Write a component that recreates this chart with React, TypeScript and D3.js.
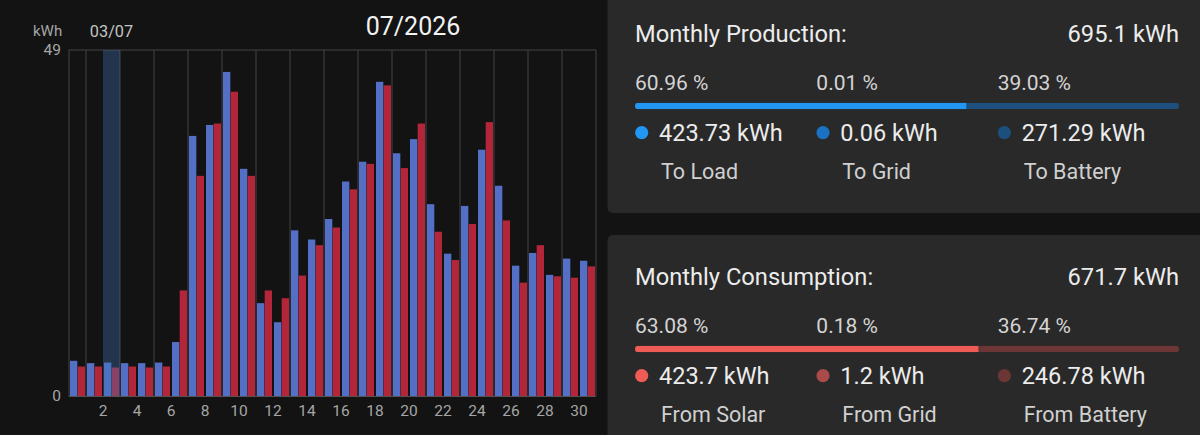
import React, { useEffect } from 'react';
import * as d3 from 'd3';

// daily energy, July 2026 (kWh)
const days = d3.range(1, 32).map(String);
const production = [
  5.05, 4.72, 4.8, 4.72, 4.72, 4.8, 7.7, 36.85, 38.4, 45.9, 32.2, 13.2, 10.5, 23.5, 22.2, 25.1,
  30.4, 33.2, 44.5, 34.4, 36.4, 27.2, 20.2, 26.95, 34.9, 29.8, 18.5, 20.3, 17.2, 19.5, 19.2,
];
const consumption = [
  4.24, 4.24, 4.1, 4.24, 4.1, 4.24, 15.0, 31.2, 38.6, 43.1, 31.2, 15.0, 13.9, 17.1, 21.4, 23.9,
  29.3, 32.9, 44.0, 32.3, 38.6, 23.3, 19.3, 24.4, 38.8, 24.9, 16.1, 21.4, 17.0, 16.8, 18.4,
];
const xTickDays = d3.range(2, 31, 2);
const gridDays = d3.range(1, 31, 2);
const yMax = 49;
const selectedDay = '3';
const selectedLabel = '03/07';
const monthLabel = '07/2026';

// summary panels
const prodTotal = '695.1 kWh';
const prodShares = [60.96, 0.01, 39.03];
const prodValues = ['423.73 kWh', '0.06 kWh', '271.29 kWh'];
const prodLabels = ['To Load', 'To Grid', 'To Battery'];
const consTotal = '671.7 kWh';
const consShares = [63.08, 0.18, 36.74];
const consValues = ['423.7 kWh', '1.2 kWh', '246.78 kWh'];
const consLabels = ['From Solar', 'From Grid', 'From Battery'];

const W = 1200;
const H = 435;
const font = 'Roboto, "Noto Sans", sans-serif';

const plot = { left: 69, right: 596, top: 50, bottom: 396.5 };

const x = d3.scaleBand().domain(days).range([plot.left, plot.right]);
const bw = x.bandwidth();
const sub = d3.scaleBand().domain(['p', 'c']).range([1, bw - 1]).paddingInner(0.05);
const y = d3.scaleLinear().domain([0, yMax]).range([plot.bottom, plot.top]);

type PanelProps = {
  top: number;
  title: string;
  total: string;
  shares: number[];
  values: string[];
  labels: string[];
  colors: string[];
};

const Panel = ({ top, title, total, shares, values, labels, colors }: PanelProps) => {
  const cols = d3.scaleBand().domain(['0', '1', '2']).range([635, 1179]);
  const bar = d3.scaleLinear().domain([0, 100]).range([635, 1179]);
  const cum = shares.reduce<number[]>((acc, s, i) => [...acc, (acc[i] ?? 0) + s], [0]);
  return (
    <g>
      <rect x={607.5} y={top} width={610} height={221} rx={5} fill="#292929" />
      <text x={635} y={top + 50} fontSize={23.7} fill="#ececec">{title}</text>
      <text x={1179} y={top + 50} fontSize={23.7} fill="#ececec" textAnchor="end">{total}</text>
      <clipPath id={`clip${top}`}>
        <rect x={635} y={top + 110.7} width={544} height={6.6} rx={3.3} />
      </clipPath>
      <g clipPath={`url(#clip${top})`}>
        {shares.map((s, i) => (
          <rect key={i} x={bar(cum[i])} y={top + 110.7} width={Math.max(0, bar(cum[i + 1]) - bar(cum[i]))}
            height={6.6} fill={colors[i]} />
        ))}
      </g>
      {shares.map((s, i) => {
        const cx = cols(String(i))!;
        return (
          <g key={i}>
            <text x={cx} y={top + 98} fontSize={21} fill="#d4d4d4">{s.toFixed(2)} %</text>
            <circle cx={cx + 6.7} cy={top + 140.7} r={6.6} fill={colors[i]} />
            <text x={cx + 24} y={top + 149} fontSize={23.5} fill="#ececec">{values[i]}</text>
            <text x={cx + 26} y={top + 187} fontSize={21.5} fill="#d0d0d0">{labels[i]}</text>
          </g>
        );
      })}
    </g>
  );
};

const App: React.FC = () => {
  useEffect(() => {
    document.body.style.margin = '0';
    document.body.style.background = '#131313';
  }, []);

  return (
    <svg width={W} height={H} style={{ position: 'fixed', left: 0, top: 0, display: 'block' }} fontFamily={font}>
      <rect width={W} height={H} fill="#131313" />

      {/* chart frame and grid */}
      <g stroke="#444444" strokeWidth={1}>
        <line x1={plot.left} x2={plot.right} y1={plot.top} y2={plot.top} />
        <line x1={plot.left} x2={plot.left} y1={plot.top} y2={plot.bottom} />
        <line x1={plot.right} x2={plot.right} y1={plot.top} y2={plot.bottom} />
        {gridDays.map((d) => {
          const gx = x(String(d))! + bw;
          return <line key={d} x1={gx} x2={gx} y1={plot.top} y2={plot.bottom} />;
        })}
      </g>

      {/* bars */}
      {days.map((d, i) => (
        <g key={d} transform={`translate(${x(d)},0)`}>
          <rect x={sub('p')} y={y(production[i])} width={sub.bandwidth()} height={plot.bottom - y(production[i])} fill="#5470c6" />
          <rect x={sub('c')} y={y(consumption[i])} width={sub.bandwidth()} height={plot.bottom - y(consumption[i])} fill="#b3263a" />
        </g>
      ))}

      {/* selected day */}
      <rect x={x(selectedDay)} y={plot.top} width={bw} height={plot.bottom - plot.top} fill="rgba(63,118,186,0.35)" />

      <line x1={plot.left} x2={plot.right} y1={plot.bottom} y2={plot.bottom} stroke="#555555" />

      {/* axis labels */}
      <g fontSize={15.5} fill="#a6a6a6">
        {xTickDays.map((d) => (
          <text key={d} x={x(String(d))! + bw} y={415.5} textAnchor="middle">{d}</text>
        ))}
        <text x={61} y={55} textAnchor="end">{yMax}</text>
        <text x={61} y={400.5} textAnchor="end">0</text>
        <text x={33} y={36} fontSize={15}>kWh</text>
      </g>
      <text x={x(selectedDay)! + bw / 2} y={36.5} fontSize={16.3} fill="#c4c4c4" textAnchor="middle">{selectedLabel}</text>
      <text x={413} y={35} fontSize={25} fill="#f2f2f2" textAnchor="middle">{monthLabel}</text>

      {/* summary panels */}
      <rect x={655} y={0} width={545} height={1.2} fill="#5a5a5a" />
      <Panel top={-8} title="Monthly Production:" total={prodTotal} shares={prodShares}
        values={prodValues} labels={prodLabels} colors={['#2196f3', '#1b72c4', '#1d4f7e']} />
      <Panel top={235} title="Monthly Consumption:" total={consTotal} shares={consShares}
        values={consValues} labels={consLabels} colors={['#ef5b55', '#ab4a4a', '#6c3636']} />
    </svg>
  );
};

export default App;
